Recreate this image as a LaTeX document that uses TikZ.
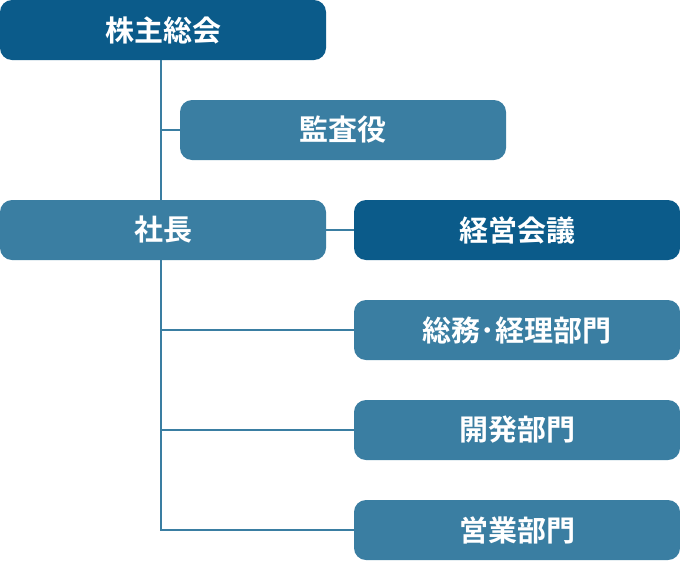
\documentclass[tikz,border=0pt]{standalone}
\usepackage{fontspec}
\newfontfamily\cjk{Noto Sans CJK JP}[BoldFont={Noto Sans CJK JP Bold}]
\usepackage{tikz}
\usetikzlibrary{positioning}

\definecolor{darkblue}{HTML}{0B5B8A}
\definecolor{lightblue}{HTML}{3A7EA2}

\tikzset{
	box/.style={rectangle, rounded corners=12pt, minimum width=326pt, minimum height=60pt,
		inner sep=0pt, text=white, font=\cjk\bfseries\fontsize{29}{29}\selectfont},
	darkbox/.style={box, fill=darkblue},
	lightbox/.style={box, fill=lightblue},
	link/.style={draw=lightblue, line width=2pt}
}

\begin{document}
\begin{tikzpicture}[x=1pt, y=-1pt]
	\useasboundingbox (0,0) rectangle (680,560);
	\node[darkbox] (GM) at (163,30) {株主総会};
	\node[lightbox] (AUD) at (343,130) {監査役};
	\node[lightbox] (CEO) at (163,230) {社長};
	\node[darkbox] (MC) at (517,230) {経営会議};
	\node[lightbox] (ADM) at (517,330) {総務･経理部門};
	\node[lightbox] (DEV) at (517,430) {開発部門};
	\node[lightbox] (SAL) at (517,530) {営業部門};
	
	\coordinate (T1) at ([xshift=-2pt]GM.south);
	\coordinate (T2) at ([xshift=-2pt]CEO.south);
	\coordinate (TE) at (T2 |- SAL.west);
	
	\draw[link] (T1) -- ([xshift=-2pt]CEO.north);
	\draw[link] (T1 |- AUD.west) -- (AUD.west);
	\draw[link] (CEO.east) -- (MC.west);
	\draw[link] (T2) -- (TE) -- (SAL.west);
	\draw[link] (T2 |- ADM.west) -- (ADM.west);
	\draw[link] (T2 |- DEV.west) -- (DEV.west);
\end{tikzpicture}
\end{document}
